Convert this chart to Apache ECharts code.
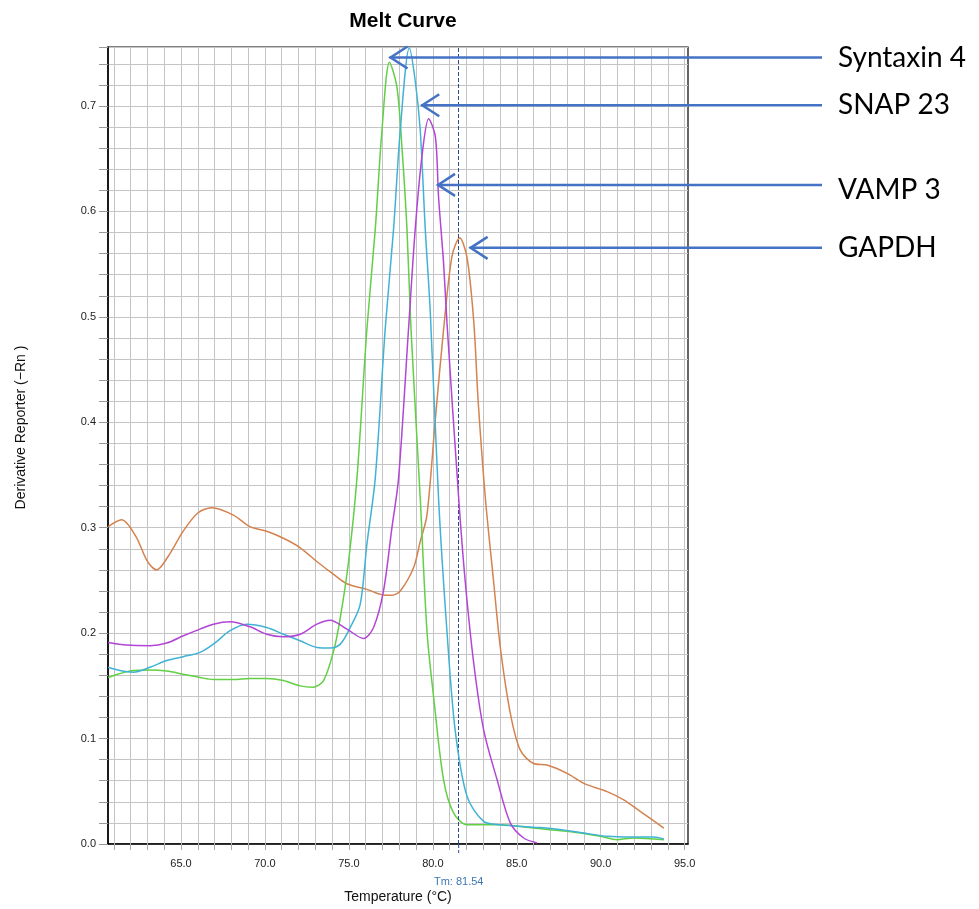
<!DOCTYPE html>
<html>
<head>
<meta charset="utf-8">
<script src="https://cdn.jsdelivr.net/npm/echarts@6/dist/echarts.min.js"></script>
<style>
html,body{margin:0;padding:0;background:#fff;}
#chart{width:979px;height:909px;}
</style>
</head>
<body>
<div id="chart"></div>
<script>
// ---- data (Temperature °C, Derivative Reporter) ----
const gapdh = [
  [60.66,0.301],[61.46,0.3075],[62.3,0.292],[63.0,0.268],[63.55,0.260],[64.2,0.272],[65.14,0.297],[66.0,0.314],[66.83,0.319],
  [68.12,0.312],[69.11,0.301],[70.1,0.2966],[71.1,0.290],[72.1,0.281],[73.09,0.268],[74.09,0.2557],
  [74.88,0.2469],[76.07,0.2415],[77.06,0.2362],[77.56,0.236],[78.06,0.240],[78.85,0.262],[79.25,0.287],
  [79.65,0.312],[80.15,0.403],[80.64,0.488],[81.14,0.5575],[81.6,0.575],[82.04,0.556],[82.44,0.495],
  [82.7,0.42],[83.13,0.328],[83.62,0.249],[84.02,0.1865],[84.62,0.1236],[85.21,0.089],[86.0,0.0764],
  [86.8,0.0749],[88.0,0.067],[89.0,0.0575],[90.38,0.0497],[91.37,0.0419],[92.37,0.0308],[93.76,0.0151]
];
const syntaxin4 = [
  [60.66,0.158],[62.16,0.1645],[63.15,0.165],[64.15,0.164],[65.14,0.161],[66.13,0.158],[66.93,0.156],
  [68.12,0.156],[69.11,0.157],[70.1,0.157],[71.1,0.155],[72.1,0.150],[72.89,0.1488],[73.49,0.155],
  [74.09,0.183],[74.49,0.215],[74.98,0.268],[75.48,0.347],[76.07,0.488],[76.57,0.583],[76.97,0.677],
  [77.42,0.7415],[77.86,0.718],[78.16,0.661],[78.46,0.583],[78.7,0.488],[79.25,0.328],[79.65,0.202],
  [80.05,0.139],[80.64,0.0608],[81.24,0.0292],[82.04,0.0183],[84.02,0.0183],[86.0,0.0151],[88.0,0.012],
  [89.98,0.0073],[90.97,0.0041],[91.96,0.0057],[93.76,0.004]
];
const snap23 = [
  [60.66,0.1676],[61.36,0.1645],[62.16,0.163],[63.15,0.1676],[64.15,0.174],[65.14,0.1777],[66.13,0.1818],
  [66.93,0.1896],[67.92,0.2023],[68.91,0.2085],[70.1,0.2054],[71.1,0.199],[72.1,0.1928],[73.09,0.1865],
  [73.88,0.1859],[74.49,0.1896],[75.08,0.2054],[75.67,0.227],[76.07,0.284],[76.57,0.347],[77.16,0.488],
  [77.66,0.583],[78.06,0.677],[78.6,0.755],[78.95,0.724],[79.25,0.677],[79.55,0.583],[79.85,0.504],
  [80.34,0.328],[80.84,0.202],[81.33,0.108],[82.04,0.045],[83.03,0.0214],[84.02,0.0183],[86.0,0.016],
  [87.2,0.0145],[89.0,0.0104],[90.38,0.0073],[91.96,0.0066],[93.16,0.0066],[93.76,0.0047]
];
const vamp3 = [
  [60.66,0.1912],[61.76,0.1887],[63.15,0.1881],[64.15,0.1906],[65.14,0.1975],[66.13,0.2038],[66.93,0.2085],
  [67.92,0.2107],[69.11,0.206],[70.1,0.199],[71.1,0.1966],[72.1,0.199],[73.09,0.2085],[73.88,0.2123],
  [74.88,0.2038],[75.87,0.195],[76.47,0.2054],[77.06,0.24],[77.56,0.2997],[77.96,0.347],[78.55,0.488],
  [78.95,0.583],[79.35,0.652],[79.75,0.688],[80.15,0.671],[80.34,0.614],[80.64,0.551],[80.84,0.495],
  [81.54,0.328],[81.93,0.249],[82.44,0.171],[83.03,0.108],[83.83,0.0608],[84.62,0.0198],[85.41,0.0057],
  [86.21,0.001]
];
const seriesNames = ['GAPDH','Syntaxin 4','SNAP 23','VAMP 3'];
const tmValue = 81.54;
// annotation arrow tips (data coords) and labels
const annoLabels = ['Syntaxin 4','SNAP 23','VAMP 3','GAPDH'];
const annoTips = [[77.42,0.746],[79.31,0.7007],[80.25,0.6252],[82.19,0.5655]];
// axis ticks and labels
const xTicks = [61,62,63,64,65,66,67,68,69,70,71,72,73,74,75,76,77,78,79,80,81,82,83,84,85,86,87,88,89,90,91,92,93,94,95];
const xLabels = [65,70,75,80,85,90,95];
const yLabels = [0,0.1,0.2,0.3,0.4,0.5,0.6,0.7];

const colors = ['#D4824E','#62CF45','#3FB2D5','#B245D6'];
const dataSets = [gapdh, syntaxin4, snap23, vamp3];

const chart = echarts.init(document.getElementById('chart'));
const font = 'Liberation Sans, Arial, sans-serif';

const series = dataSets.map((d, i) => ({
  name: seriesNames[i],
  type: 'line',
  data: d,
  smooth: 0.3,
  showSymbol: false,
  lineStyle: { color: colors[i], width: 1.5 },
  itemStyle: { color: colors[i] },
  z: 3 + i,
  animation: false
}));
series[0].markLine = {
  silent: true,
  symbol: 'none',
  animation: false,
  lineStyle: { color: '#2B4C8C', type: [4, 2], width: 1 },
  label: {
    show: true, position: 'start', distance: 32,
    formatter: 'Tm: ' + tmValue.toFixed(2),
    color: '#3F78B2', fontFamily: font, fontSize: 11
  },
  data: [{ xAxis: tmValue }]
};
// vertical grid lines at each degree
series.push({
  name: 'grid',
  type: 'line',
  data: [],
  z: 1,
  silent: true,
  markLine: {
    silent: true, symbol: 'none', animation: false, z: 1,
    label: { show: false },
    lineStyle: { color: '#C4C4C4', type: 'solid', width: 1 },
    data: xTicks.map(v => ({ xAxis: v }))
  }
});

chart.setOption({
  animation: false,
  title: {
    text: 'Melt Curve', left: 398, top: 6, textAlign: 'center',
    textStyle: { fontFamily: font, fontWeight: 'bold', fontSize: 21, color: '#000' }
  },
  grid: {
    left: 108, right: 291, top: 47, bottom: 61,
    show: true, borderColor: '#000', borderWidth: 1.2, backgroundColor: '#fff'
  },
  xAxis: {
    type: 'value', min: 60.65, max: 95.2,
    name: 'Temperature (°C)', nameLocation: 'middle', nameGap: 46,
    nameTextStyle: { fontFamily: font, fontSize: 14, color: '#111' },
    axisLine: { show: true, onZero: false, lineStyle: { color: '#000', width: 1.5 } },
    axisTick: { show: true, length: 6, customValues: xTicks, lineStyle: { color: '#aaa' } },
    axisLabel: { customValues: xLabels, formatter: v => v.toFixed(1), fontFamily: font, fontSize: 11, color: '#222', margin: 14 },
    splitLine: { show: false }
  },
  yAxis: {
    type: 'value', min: 0, max: 0.756, interval: 0.02,
    name: 'Derivative Reporter (−Rn )', nameLocation: 'middle', nameGap: 80, nameRotate: 90,
    nameTextStyle: { fontFamily: font, fontSize: 14, color: '#111', padding: [0, 0, 0, 36] },
    axisLine: { show: true, onZero: false, lineStyle: { color: '#000', width: 1.5 } },
    axisTick: { show: true, length: 9, lineStyle: { color: '#999' } },
    axisLabel: { customValues: yLabels, formatter: v => v.toFixed(1), fontFamily: font, fontSize: 11, color: '#222', margin: 12 },
    splitLine: { show: true, lineStyle: { color: '#C4C4C4', width: 1 } }
  },
  series: series
});

// annotation arrows and labels
const arrowColor = '#4472C4';
const rightX = 822;
const labelX = 838;
const graphics = [];
annoTips.forEach((tip, i) => {
  const p = chart.convertToPixel({ gridIndex: 0 }, tip);
  graphics.push({
    type: 'line', z: 100,
    shape: { x1: p[0], y1: p[1], x2: rightX, y2: p[1] },
    style: { stroke: arrowColor, lineWidth: 2.5 }
  });
  graphics.push({
    type: 'polyline', z: 100,
    shape: { points: [[p[0] + 18, p[1] - 11], [p[0] + 1, p[1]], [p[0] + 18, p[1] + 11]] },
    style: { stroke: arrowColor, lineWidth: 2.5, fill: null }
  });
  graphics.push({
    type: 'text', z: 100, x: labelX, y: p[1] + (i === 2 ? 5 : 0),
    style: { text: annoLabels[i], fontFamily: 'Lato, Open Sans, sans-serif', fontSize: 28, fill: '#000', verticalAlign: 'middle' }
  });
});
// Tm marker continues a little below the x axis
const tmBottom = chart.convertToPixel({ gridIndex: 0 }, [tmValue, 0]);
graphics.push({
  type: 'line', z: 100, silent: true,
  shape: { x1: tmBottom[0], y1: tmBottom[1], x2: tmBottom[0], y2: tmBottom[1] + 9 },
  style: { stroke: '#2B4C8C', lineWidth: 1, lineDash: [4, 2] }
});
chart.setOption({ graphic: graphics });
</script>
</body>
</html>
